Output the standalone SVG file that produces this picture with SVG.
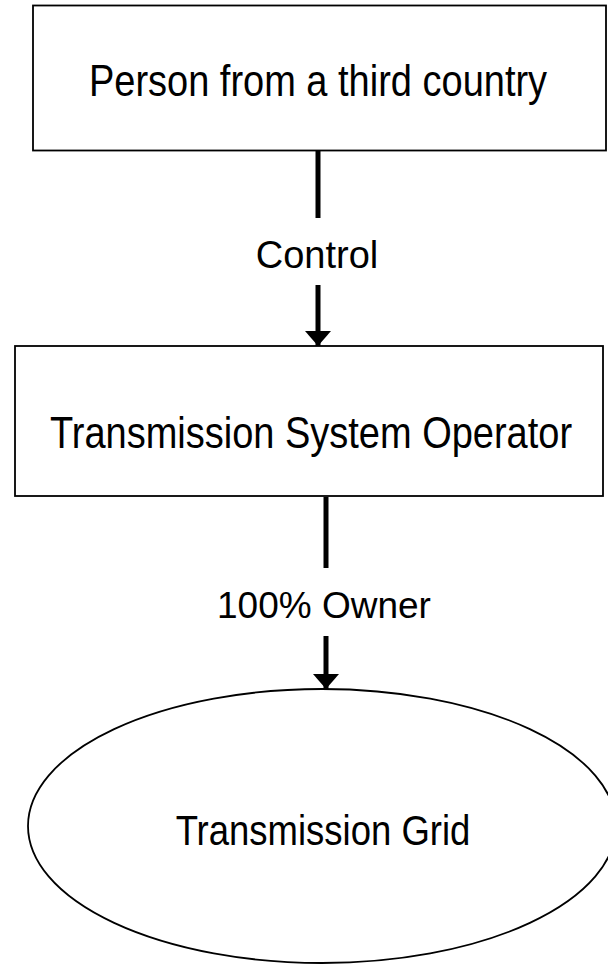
<svg xmlns="http://www.w3.org/2000/svg" width="608" height="966" viewBox="0 0 608 966">
  <defs>
    <style>
      .box { fill: #ffffff; stroke: #000000; stroke-width: 1.8; }
      .lbl { font-family: "Liberation Sans", Arial, sans-serif; font-size: 38px; fill: #000000; text-anchor: middle; }
      .edge { stroke: #000000; stroke-width: 5; fill: none; }
      .edge-lbl { font-family: "Liberation Sans", Arial, sans-serif; font-size: 38px; fill: #000000; text-anchor: middle; }
    </style>
    <!-- wide, short arrowhead at the end of each connector -->
    <marker id="arrow" viewBox="0 0 15 26" refX="15" refY="13" markerWidth="15" markerHeight="26" markerUnits="userSpaceOnUse" orient="auto">
      <path d="M0,0 L15,13 L0,26 Z" fill="#000000"/>
    </marker>
  </defs>

  <g id="person">
    <rect class="box" x="33" y="5.5" width="573" height="145"/>
    <!-- node labels use a slightly tall, narrow letterform -->
    <text class="lbl" transform="translate(318 96) scale(1 1.17)">Person from a third country</text>
  </g>

  <g id="tso">
    <rect class="box" x="15" y="346" width="588" height="150"/>
    <text class="lbl" transform="translate(311 448) scale(1 1.17)">Transmission System Operator</text>
  </g>

  <g id="grid">
    <ellipse class="box" cx="322" cy="826" rx="294" ry="137"/>
    <text class="lbl" style="font-size:36.5px" transform="translate(323 845) scale(1 1.17)">Transmission Grid</text>
  </g>

  <g id="connectors">
    <line class="edge" x1="318" y1="151" x2="318" y2="218"/>
    <text class="edge-lbl" x="317" y="268">Control</text>
    <line class="edge" x1="318" y1="285" x2="318" y2="346" marker-end="url(#arrow)"/>

    <line class="edge" x1="326" y1="497" x2="326" y2="568"/>
    <text class="edge-lbl" style="font-size:37px" x="324" y="618">100% Owner</text>
    <line class="edge" x1="326" y1="636" x2="326" y2="689" marker-end="url(#arrow)"/>
  </g>
</svg>
